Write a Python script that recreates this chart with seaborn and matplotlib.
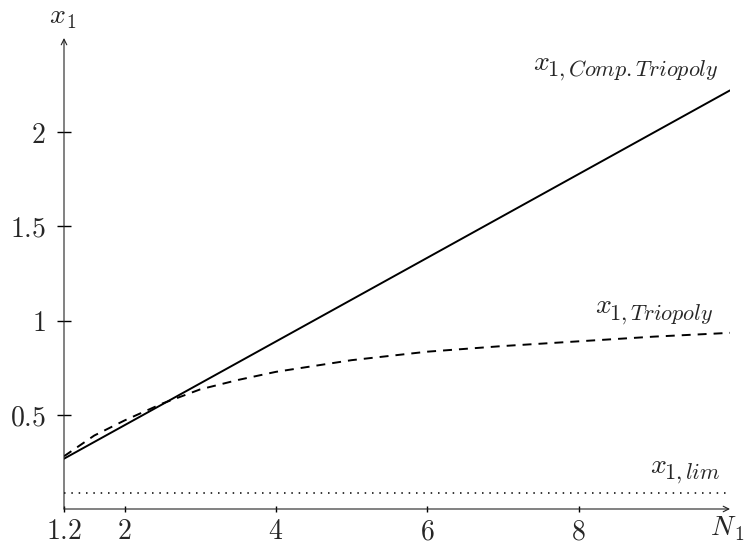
import matplotlib
matplotlib.use("Agg")
import matplotlib.pyplot as plt
import seaborn as sns
import pandas as pd

# data
n_comp = [1.2, 10.0]
x_comp = [0.267, 2.222]

n_tri = [1.2, 1.6, 2.0, 2.5, 3.0, 3.5, 4.0, 5.0, 6.0, 7.0, 8.0, 9.0, 10.0]
x_tri = [0.28, 0.39, 0.47, 0.56, 0.635, 0.685, 0.728, 0.79, 0.835, 0.865, 0.89, 0.915, 0.935]

n_lim = [1.2, 10.0]
x_lim = [0.085, 0.085]

xticks = [1.2, 2, 4, 6, 8]
xtick_labels = ["1.2", "2", "4", "6", "8"]
yticks = [0.5, 1, 1.5, 2]
ytick_labels = ["0.5", "1", "1.5", "2"]

sns.set_theme(style="white")
plt.rcParams["mathtext.fontset"] = "cm"
plt.rcParams["font.family"] = ["DejaVu Serif"]

fig = plt.figure(figsize=(7.46, 5.44), dpi=100)
ax = fig.add_axes([64/746, 35/544, (730-64)/746, (509-38)/544])

df_c = pd.DataFrame({"N": n_comp, "x": x_comp})
df_t = pd.DataFrame({"N": n_tri, "x": x_tri})
df_l = pd.DataFrame({"N": n_lim, "x": x_lim})

sns.lineplot(data=df_c, x="N", y="x", ax=ax, color="black", lw=1.4)
sns.lineplot(data=df_t, x="N", y="x", ax=ax, color="black", lw=1.4,
             linestyle=(0, (4.6, 3.6)))
sns.lineplot(data=df_l, x="N", y="x", ax=ax, color="black", lw=1.1,
             linestyle=(0, (1, 3.8)))

ax.set_xlim(1.2, 10)
ax.set_ylim(0, 2.5)
for s in ax.spines.values():
    s.set_visible(False)

# axes with arrows
ax.annotate("", xy=(1, 0), xytext=(0, 0), xycoords="axes fraction",
            arrowprops=dict(arrowstyle="->", lw=0.8, color="#222222",
                            shrinkA=0, shrinkB=0, mutation_scale=10))
ax.annotate("", xy=(0, 1), xytext=(0, 0), xycoords="axes fraction",
            arrowprops=dict(arrowstyle="->", lw=0.8, color="#222222",
                            shrinkA=0, shrinkB=0, mutation_scale=10))

FS = 20
SUB = 16
ax.set_xticks(xticks)
ax.set_xticklabels([f"${t}$" for t in xtick_labels], fontsize=FS)
ax.set_yticks(yticks)
ax.set_yticklabels([f"${t}$" for t in ytick_labels], fontsize=FS)
ax.tick_params(axis="x", direction="inout", length=5, width=1, color="black",
               pad=4, bottom=True)
ax.tick_params(axis="y", direction="inout", length=10, width=1, color="black",
               pad=8, left=True)
ax.set_xlabel("")
ax.set_ylabel("")
ax.grid(False)


def sub_label(x, y, main, sub, transform=None, dx=10.5, dy=-4.3, sub_fs=SUB):
    tr = transform if transform is not None else ax.transData
    ax.text(x, y, f"${main}$", transform=tr, ha="left", va="baseline",
            fontsize=FS, clip_on=False)
    ax.annotate(f"${sub}$", xy=(x, y), xycoords=tr, xytext=(dx, dy),
                textcoords="offset points", ha="left", va="baseline",
                fontsize=sub_fs, annotation_clip=False)


sub_label(-0.022, 1.032, "x", "1", transform=ax.transAxes, dx=12, dy=-3.5,
          sub_fs=14)
sub_label(0.970, -0.056, "N", "1", transform=ax.transAxes, dx=17.5, dy=-3.5,
          sub_fs=14)

sub_label(7.395, 2.332, "x", "1,Comp.Triopoly")
sub_label(8.215, 1.039, "x", "1,Triopoly")
sub_label(8.94, 0.191, "x", "1,lim")

fig.savefig("out.png", dpi=100)
